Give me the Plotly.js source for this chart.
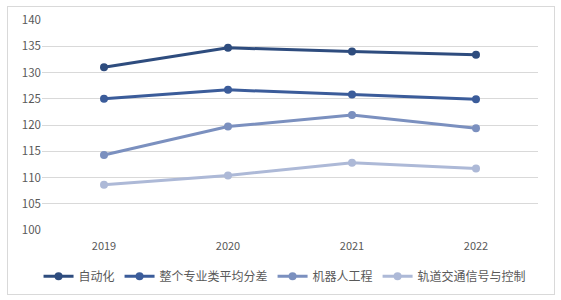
<!DOCTYPE html>
<html><head><meta charset="utf-8">
<script src="https://cdn.plot.ly/plotly-3.0.1.min.js"></script>
<style>
body{margin:0;padding:0;background:#fff;}
#frame{position:absolute;left:7px;top:6px;width:546px;height:287px;border:1px solid #d9d9d9;}
#chart{position:absolute;left:0;top:0;width:561px;height:300px;}
</style>
</head><body>
<div id="frame"></div>
<div id="chart"></div>
<script>
const years = ['2019','2020','2021','2022'];
const names = ['自动化','整个专业类平均分差','机器人工程','轨道交通信号与控制'];
const automation = [131.0, 134.7, 134.0, 133.4];
const averageGap = [125.0, 126.7, 125.8, 124.9];
const robotics = [114.3, 119.7, 121.9, 119.4];
const railSignal = [108.6, 110.4, 112.8, 111.7];
const colors = ['#2E4C7E','#3B5C9A','#7B90BF','#ADB9D7'];
const series = [automation, averageGap, robotics, railSignal];

const traces = series.map((vals,i)=>({
  x: years, y: vals, name: names[i], type:'scatter', mode:'lines+markers',
  line:{color:colors[i], width:3},
  marker:{color:colors[i], size:8}
}));

const layout = {
  width:561, height:300,
  margin:{l:42, r:23, t:20, b:70, autoexpand:false},
  paper_bgcolor:'rgba(0,0,0,0)', plot_bgcolor:'rgba(0,0,0,0)',
  font:{family:'"Noto Sans CJK SC", "Liberation Sans", sans-serif', color:'#595959', size:11},
  xaxis:{type:'category', showgrid:false, zeroline:false, showline:false, ticks:'', automargin:false,
         tickfont:{size:11, color:'#595959'}, range:[-0.5,3.5], ticklabelstandoff:8},
  yaxis:{range:[100,140], dtick:5, showgrid:true, gridcolor:'#d9d9d9', gridwidth:1, automargin:false,
         zeroline:false, showline:false, ticks:'', tickfont:{size:11.5,color:'#595959'}},
  showlegend:true,
  legend:{orientation:'h', x:0.49, xanchor:'center', y:-0.22, yanchor:'middle',
          font:{size:12, color:'#595959'}, itemwidth:30, tracegroupgap:0},
};
Plotly.newPlot('chart', traces, layout, {displayModeBar:false, staticPlot:true});
</script>
</body></html>
